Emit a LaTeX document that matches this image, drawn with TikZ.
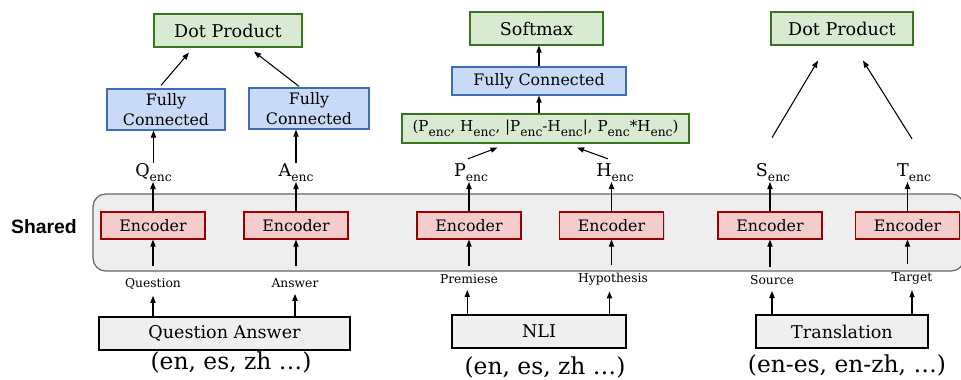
\documentclass[tikz,border=0pt]{standalone}
\usepackage{fontspec}
\setmainfont{DejaVu Serif}
\newfontfamily\sharedfont{Liberation Sans}
\usetikzlibrary{arrows.meta,calc,shadows}
\definecolor{greenfill}{HTML}{D9EAD3}
\definecolor{greenline}{HTML}{38761D}
\definecolor{bluefill}{HTML}{C9DAF8}
\definecolor{blueline}{HTML}{3D6CB9}
\definecolor{redfill}{HTML}{F4CCCC}
\definecolor{redline}{HTML}{990000}
\definecolor{taskfill}{HTML}{EFEFEF}
\definecolor{sharedfill}{HTML}{EEEEEE}
\definecolor{sharedline}{HTML}{666666}
\newcommand{\lowsub}[1]{\raisebox{-0.6ex}{\fontsize{7}{8}\selectfont #1}}

\begin{document}
\begin{tikzpicture}[x=0.02cm,y=-0.02cm,
    box/.style={draw,line width=0.7pt,inner sep=0pt,align=center,
      font=\fontsize{9}{11}\selectfont,
      drop shadow={shadow xshift=0.6pt,shadow yshift=-0.7pt,opacity=0.25}},
    outbox/.style={box,fill=greenfill,draw=greenline,font=\fontsize{10}{12}\selectfont},
    fcbox/.style={box,fill=bluefill,draw=blueline},
    encbox/.style={box,fill=redfill,draw=redline,minimum width=2.08cm,minimum height=0.54cm},
    taskbox/.style={box,fill=taskfill,draw=black,minimum height=0.66cm,font=\fontsize{10}{12}\selectfont},
    lab/.style={inner sep=0pt,font=\fontsize{7}{8}\selectfont},
    enclab/.style={inner sep=0pt,anchor=base,font=\fontsize{10}{11}\selectfont},
    lang/.style={inner sep=0pt,font=\fontsize{13.3}{15}\selectfont},
    arr/.style={-{Triangle[length=4pt,width=3pt]},line width=0.6pt}]
  \useasboundingbox (0,0) rectangle (961,379);

  % shared encoder band
  \node[draw=sharedline,fill=sharedfill,line width=0.7pt,rounded corners=0.25cm,
        minimum width=17.42cm,minimum height=1.54cm] (shared) at (528.5,232.5) {};
  \node[inner sep=0pt,font=\sharedfont\bfseries\fontsize{11}{13}\selectfont] (sharedlab) at (44,227) {Shared};

  % encoders
  \node[encbox] (enc1) at (153,225.5) {Encoder};
  \node[encbox] (enc2) at (296,225.5) {Encoder};
  \node[encbox] (enc3) at (469,225.5) {Encoder};
  \node[encbox] (enc4) at (611.5,225.5) {Encoder};
  \node[encbox] (enc5) at (770,225.5) {Encoder};
  \node[encbox] (enc6) at (907.5,225.5) {Encoder};

  % tasks
  \node[taskbox,minimum width=5.02cm] (qa) at (224.5,333.5) {Question Answer};
  \node[taskbox,minimum width=3.48cm] (nli) at (539,331.5) {NLI};
  \node[taskbox,minimum width=3.44cm] (trans) at (842,331.5) {Translation};
  \node[lang] (qalang) at (231,362) {(en, es, zh …)};
  \node[lang] (nlilang) at (545,367) {(en, es, zh …)};
  \node[lang] (translang) at (847,365) {(en-es, en-zh, …)};

  % inputs
  \node[lab] (qlab) at (153,284) {Question};
  \node[lab] (alab) at (295,283) {Answer};
  \node[lab] (plab) at (469,279) {Premiese};
  \node[lab] (hlab) at (613,279) {Hypothesis};
  \node[lab] (slab) at (772,280) {Source};
  \node[lab] (tlab) at (912,278) {Target};

  \draw[arr,shorten >=0.12cm] (qlab.south |- qa.north) -- (qlab.south);
  \draw[arr,shorten >=0.12cm] (alab.south |- qa.north) -- (alab.south);
  \draw[arr,shorten >=0.12cm] ([xshift=-1pt]plab.south |- nli.north) -- ([xshift=-1pt]plab.south);
  \draw[arr,shorten >=0.12cm] ([xshift=-2pt]hlab.south |- nli.north) -- ([xshift=-2pt]hlab.south);
  \draw[arr,shorten >=0.12cm] (slab.south |- trans.north) -- (slab.south);
  \draw[arr,shorten >=0.12cm] (tlab.south |- trans.north) -- (tlab.south);

  \draw[arr,shorten <=0.24cm] (enc1.south |- qlab.north) -- (enc1.south);
  \draw[arr,shorten <=0.24cm] (enc2.south |- alab.north) -- (enc2.south);
  \draw[arr,shorten <=0.16cm] (enc3.south |- plab.north) -- (enc3.south);
  \draw[arr,shorten <=0.16cm] (enc4.south |- hlab.north) -- (enc4.south);
  \draw[arr,shorten <=0.16cm] (enc5.south |- slab.north) -- (enc5.south);
  \draw[arr,shorten <=0.16cm] (enc6.south |- tlab.north) -- (enc6.south);

  % encodings
  \node[enclab] (qenc) at (153.5,176) {Q\lowsub{enc}};
  \node[enclab] (aenc) at (296,176) {A\lowsub{enc}};
  \node[enclab] (penc) at (471,176) {P\lowsub{enc}};
  \node[enclab] (henc) at (615,176) {H\lowsub{enc}};
  \node[enclab] (senc) at (773,176) {S\lowsub{enc}};
  \node[enclab] (tenc) at (914,176) {T\lowsub{enc}};

  \draw[arr] (enc1.north) -- (enc1.north |- qenc.south);
  \draw[arr] (enc2.north) -- (enc2.north |- aenc.south);
  \draw[arr] (enc3.north) -- (enc3.north |- penc.south);
  \draw[arr] (enc4.north) -- (enc4.north |- henc.south);
  \draw[arr] (enc5.north) -- (enc5.north |- senc.south);
  \draw[arr] (enc6.north) -- (enc6.north |- tenc.south);

  % question answer head
  \node[fcbox,minimum width=2.36cm,minimum height=0.82cm] (fcq) at (166,109.5) {Fully\\Connected};
  \node[fcbox,minimum width=2.40cm,minimum height=0.82cm] (fca) at (309,108.5) {Fully\\Connected};
  \node[outbox,minimum width=2.96cm,minimum height=0.66cm] (dotqa) at (228,30.5) {Dot Product};
  \draw[arr] (qenc.north) -- (qenc.north |- fcq.south);
  \draw[arr] (aenc.north) -- (aenc.north |- fca.south);
  \draw[arr] ($(fcq.north)+(-5,-3)$) -- ($(dotqa.south)+(-39,5)$);
  \draw[arr] ($(fca.north)+(-10,-1)$) -- ($(dotqa.south)+(26,4)$);

  % nli head
  \node[outbox,minimum width=5.74cm,minimum height=0.58cm,font=\fontsize{8.6}{10}\selectfont] (concat) at (545.5,128.5)
    {(P\lowsub{enc}, H\lowsub{enc}, |P\lowsub{enc}-H\lowsub{enc}|, P\lowsub{enc}*H\lowsub{enc})};
  \node[fcbox,minimum width=3.48cm,minimum height=0.56cm] (fcnli) at (539,81) {Fully Connected};
  \node[outbox,minimum width=2.66cm,minimum height=0.66cm] (softmax) at (536.5,28.5) {Softmax};
  \draw[arr] ($(penc.north)+(-3,-4)$) -- ($(concat.south)+(-48,4)$);
  \draw[arr] ($(henc.north)+(-7,-4)$) -- ($(concat.south)+(31.5,4)$);
  \draw[arr] (fcnli.south |- concat.north) -- (fcnli.south);
  \draw[arr] (fcnli.north) -- (fcnli.north |- softmax.south);

  % translation head
  \node[outbox,minimum width=2.84cm,minimum height=0.66cm] (dottr) at (842,28.5) {Dot Product};
  \draw[arr] ($(senc.north)+(-1,-25)$) -- ($(dottr.south)+(-24,15)$);
  \draw[arr] ($(tenc.north)+(-2,-24)$) -- ($(dottr.south)+(21,15)$);
\end{tikzpicture}
\end{document}
